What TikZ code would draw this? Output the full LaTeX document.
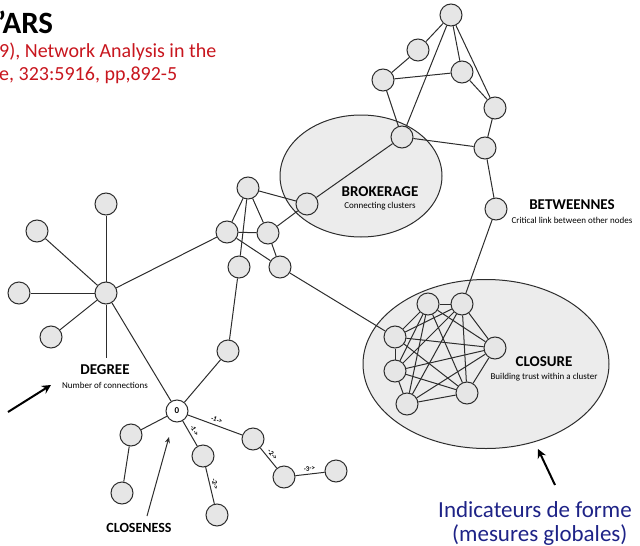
\documentclass[tikz,border=0pt]{standalone}
\usepackage{fontspec}
\setmainfont{Carlito}
\usetikzlibrary{arrows.meta,shapes.geometric}
\definecolor{nodefill}{RGB}{230,230,230}
\definecolor{ellfill}{RGB}{236,236,236}
\definecolor{edgecol}{RGB}{45,45,45}
\definecolor{refred}{RGB}{200,22,30}
\definecolor{navy}{RGB}{30,35,135}
\tikzset{
  nd/.style={circle, draw=edgecol, fill=nodefill, line width=1pt, minimum size=22pt, inner sep=0pt},
  zeronode/.style={nd, fill=white, font=\bfseries\fontsize{9}{9}\selectfont},
  edge/.style={draw=edgecol, line width=1pt},
  cluster/.style={ellipse, draw=edgecol, fill=ellfill, line width=1pt, inner sep=0pt},
  bigtitle/.style={font=\bfseries\fontsize{15}{15}\selectfont, inner sep=0pt},
  subtitle/.style={font=\fontsize{9}{9}\selectfont, inner sep=0pt},
  steplbl/.style={font=\bfseries\fontsize{7}{7}\selectfont, inner sep=2.5pt, sloped, above},
  bigarrow/.style={draw=black, line width=2pt, -{Stealth[length=9pt,width=9pt]}},
  thinarrow/.style={draw=edgecol, line width=1pt, -{Stealth[length=6pt,width=5pt]}}
}
\begin{document}
\begin{tikzpicture}[x=1pt,y=-1pt]
\useasboundingbox (0,0) rectangle (640,546);
% header text
\node[anchor=west, inner sep=0pt, font=\bfseries\fontsize{31}{31}\selectfont] (title) at (-2,22) {’ARS};
\node[anchor=west, inner sep=0pt, text=refred, font=\fontsize{20}{20}\selectfont] (ref1) at (-1,52) {9), Network Analysis in the};
\node[anchor=west, inner sep=0pt, text=refred, font=\fontsize{20}{20}\selectfont] (ref2) at (-1,75) {e, 323:5916, pp,892-5};
% clusters
\node[cluster, minimum width=162pt, minimum height=122pt] (broker) at (361,176) {};
\node[cluster, minimum width=246pt, minimum height=169pt] (closure) at (486,364) {};
% nodes
\node[nd] (t1) at (451,15) {};
\node[nd] (t2) at (418,50) {};
\node[nd] (t3) at (462,72) {};
\node[nd] (t4) at (383,80) {};
\node[nd] (t5) at (495,108) {};
\node[nd] (t6) at (402,137) {};
\node[nd] (t7) at (485,148) {};
\node[nd] (bt) at (496,209) {};
\node[nd] (bk) at (307,204) {};
\node[nd] (m1) at (248,188) {};
\node[nd] (m2) at (227,232) {};
\node[nd] (m3) at (268,233) {};
\node[nd] (m4) at (239,267) {};
\node[nd] (m5) at (280,267) {};
\node[nd] (m6) at (228,351) {};
\node[nd] (hub) at (106,293) {};
\node[nd] (d1) at (106,204) {};
\node[nd] (d2) at (37,231) {};
\node[nd] (d3) at (19,293) {};
\node[nd] (d4) at (51,337) {};
\coordinate (dline) at (106,358);
\node[zeronode] (zero) at (177,411) {0};
\node[nd] (c1) at (131,435) {};
\node[nd] (c2) at (122,493) {};
\node[nd] (c3) at (203,456) {};
\node[nd] (c4) at (217,515) {};
\node[nd] (c5) at (253,439) {};
\node[nd] (c6) at (284,477) {};
\node[nd] (c7) at (336,471) {};
% closure cluster nodes
\node[nd] (qa) at (428,304) {};
\node[nd] (qb) at (462,304) {};
\node[nd] (qc) at (395,337) {};
\node[nd] (qd) at (495,348) {};
\node[nd] (qe) at (395,371) {};
\node[nd] (qf) at (407,404) {};
\node[nd] (qg) at (467,393) {};
% edges
\path[edge] (t1) -- (t2);
\path[edge] (t1) -- (t3);
\path[edge] (t1) -- (t5);
\path[edge] (t1) -- (t6);
\path[edge] (t4) -- (t2);
\path[edge] (t4) -- (t3);
\path[edge] (t4) -- (t6);
\path[edge] (t3) -- (t5);
\path[edge] (t5) -- (t7);
\path[edge] (t6) -- (t7);
\path[edge] (t7) -- (bt);
\path[edge] (t6) -- (bk);
\path[edge] (bk) -- (m1);
\path[edge] (bk) -- (m3);
\path[edge] (m1) -- (m2);
\path[edge] (m1) -- (m3);
\path[edge] (m1) -- (m4);
\path[edge] (m2) -- (m3);
\path[edge] (m2) -- (m5);
\path[edge] (m3) -- (m5);
\path[edge] (m2) -- (hub);
\path[edge] (m4) -- (m6);
\path[edge] (m6) -- (zero);
\path[edge] (m5) -- (qc);
\path[edge] (bt) -- (qb);
\path[edge] (hub) -- (d1);
\path[edge] (hub) -- (d2);
\path[edge] (hub) -- (d3);
\path[edge] (hub) -- (d4);
\path[edge] (hub) -- (dline);
\path[edge] (hub) -- (zero);
\path[edge] (zero) -- (c1);
\path[edge] (c1) -- (c2);
\path[edge] (zero) -- node[steplbl] {-1->} (c3);
\path[edge] (c3) -- node[steplbl] {-2->} (c4);
\path[edge] (zero) -- node[steplbl] {-1->} (c5);
\path[edge] (c5) -- node[steplbl] {-2->} (c6);
\path[edge] (c6) -- node[steplbl] {-3->} (c7);
% closure complete graph
\foreach \u/\v in {qa/qb,qa/qc,qa/qd,qa/qe,qa/qf,qa/qg,
                   qb/qc,qb/qd,qb/qe,qb/qf,qb/qg,
                   qc/qd,qc/qe,qc/qg,
                   qd/qe,qd/qf,qd/qg,
                   qe/qf,qe/qg,qf/qg}
  {\path[edge] (\u) -- (\v);}
% labels
\node[bigtitle] (brokT) at (380,192) {BROKERAGE};
\node[subtitle] (brokS) at (380,206) {Connecting clusters};
\node[bigtitle] (betwT) at (572,205) {BETWEENNES};
\node[subtitle] (betwS) at (572,220) {Critical link between other nodes};
\node[bigtitle] (closT) at (544,362) {CLOSURE};
\node[subtitle] (closS) at (544,377) {Building trust within a cluster};
\node[bigtitle] (degT) at (105,370) {DEGREE};
\node[subtitle] (degS) at (105,385) {Number of connections};
\node[bigtitle, font=\bfseries\fontsize{14}{14}\selectfont] (closeT) at (139,528) {CLOSENESS};
% arrows
\coordinate (a1s) at (8,412);
\coordinate (a1e) at (51,385);
\path[bigarrow] (a1s) -- (a1e);
\coordinate (a2s) at (555,485);
\coordinate (a2e) at (538,449);
\path[bigarrow] (a2s) -- (a2e);
\coordinate (a3s) at (147,516);
\coordinate (a3e) at (169,437);
\path[thinarrow] (a3s) -- (a3e);
% bottom-right text
\node[anchor=west, inner sep=0pt, text=navy, font=\fontsize{23}{23}\selectfont] (ind1) at (438,510) {Indicateurs de forme};
\node[anchor=west, inner sep=0pt, text=navy, font=\fontsize{23}{23}\selectfont] (ind2) at (452,535) {(mesures globales)};
\end{tikzpicture}
\end{document}
